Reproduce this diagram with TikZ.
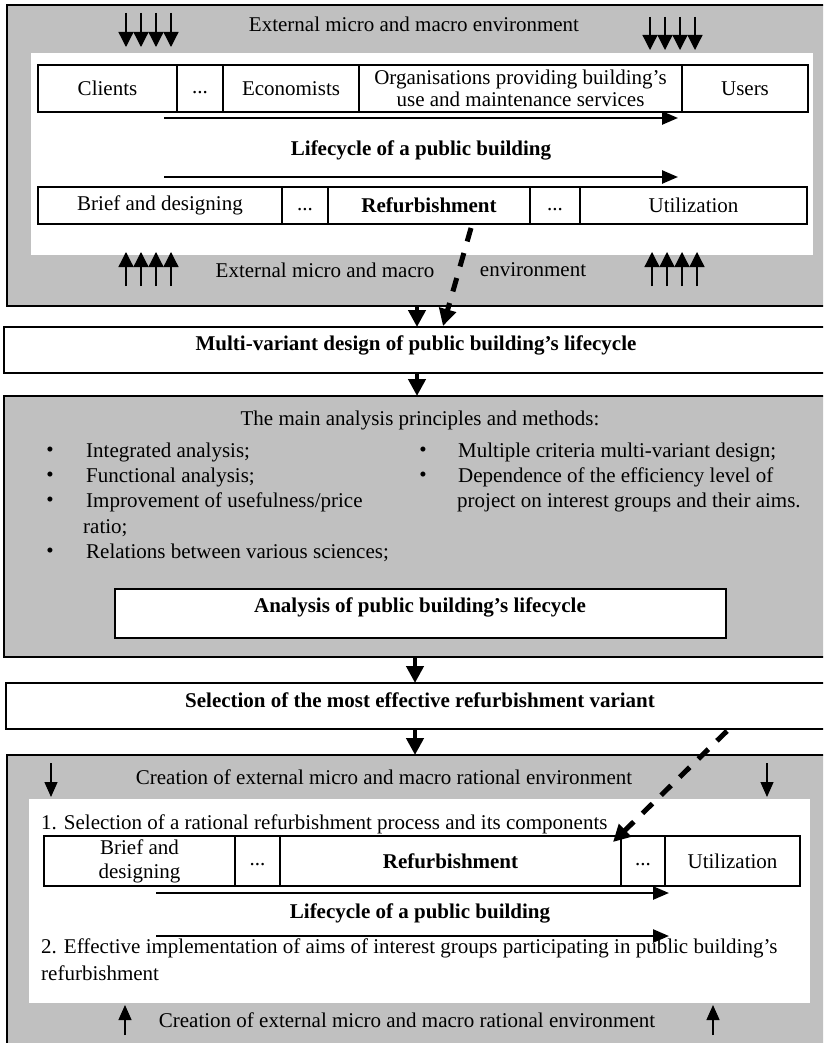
\documentclass[tikz,border=0pt]{standalone}
\usepackage{fontspec}
\setmainfont{Liberation Serif}
\usetikzlibrary{arrows.meta}
\definecolor{gbg}{RGB}{192,192,192}
\newcommand\mydots{\vphantom{Ag}...}
\begin{document}
\begin{tikzpicture}[x=1pt,y=-1pt,
  font=\fontsize{21}{25}\selectfont,
  gbox/.style={draw, line width=2pt, fill=gbg, anchor=north west, inner sep=0, outer sep=0},
  wbox/.style={draw, line width=2pt, fill=white, anchor=north west, inner sep=0, outer sep=0},
  warea/.style={fill=white, anchor=north west, inner sep=0, outer sep=0},
  cell/.style={draw, line width=2pt, anchor=north west, inner sep=0, outer sep=0, align=center},
  txt/.style={inner sep=0},
  ltxt/.style={inner sep=0, anchor=west},
  btxt/.style={inner sep=0, font=\fontsize{21}{25}\selectfont\bfseries},
  thickarr/.style={line width=4.5pt, -{Triangle[length=17pt,width=17pt]}},
  rowarr/.style={line width=2.5pt, -{Triangle[length=16pt,width=13pt]}},
  envarr/.style={line width=1.3pt, -{Triangle[length=15pt,width=15pt]}},
  smallarr/.style={line width=1.3pt, -{Triangle[length=15pt,width=13pt]}},
  dasharr/.style={line width=5pt, dash pattern=on 14pt off 12pt, -{Triangle[length=17pt,width=17pt]}}
]
\useasboundingbox (0,0) rectangle (823,1043);
\clip (0,0) rectangle (823,1043);
\fill[white] (0,0) rectangle (823,1043);

% ---------- Section 1 ----------
\node[gbox, minimum width=823pt, minimum height=301pt] (g1) at (7,5) {};
\node[warea, minimum width=782pt, minimum height=202pt] (w1) at (31,53) {};
\node[txt] (env1t) at (414,24) {External micro and macro environment};
\foreach \x [count=\i] in {126,141,156,171}{
  \coordinate (tl\i s) at (\x,13); \coordinate (tl\i e) at (\x,47);
  \draw[envarr] (tl\i s) -- (tl\i e);}
\foreach \x [count=\i] in {650,665,680,695}{
  \coordinate (tr\i s) at (\x,17); \coordinate (tr\i e) at (\x,50);
  \draw[envarr] (tr\i s) -- (tr\i e);}

\node[cell, minimum width=139pt, minimum height=47pt] (c11) at (38,65) {Clients};
\node[cell, minimum width=46pt, minimum height=47pt] (c12) at (177,65) {\mydots};
\node[cell, minimum width=136pt, minimum height=47pt] (c13) at (223,65) {Economists};
\node[cell, minimum width=323pt, minimum height=47pt, font=\fontsize{21}{22}\selectfont] (c14) at (359,65) {Organisations providing building’s\\use and maintenance services};
\node[cell, minimum width=126pt, minimum height=47pt] (c15) at (682,65) {Users};

\coordinate (a1s) at (164,118); \coordinate (a1e) at (678,118);
\draw[rowarr] (a1s) -- (a1e);
\node[btxt] (life1) at (421,150) {Lifecycle of a public building};
\coordinate (a2s) at (164,177); \coordinate (a2e) at (678,177);
\draw[rowarr] (a2s) -- (a2e);

\node[cell, minimum width=244pt, minimum height=37pt] (c21) at (38,187) {Brief and designing};
\node[cell, minimum width=46pt, minimum height=37pt] (c22) at (282,187) {\mydots};
\node[cell, minimum width=202pt, minimum height=37pt, font=\fontsize{21}{25}\selectfont\bfseries] (c23) at (328,187) {Refurbishment};
\node[cell, minimum width=50pt, minimum height=37pt] (c24) at (530,187) {\mydots};
\node[cell, minimum width=227pt, minimum height=37pt] (c25) at (580,187) {Utilization};

\node[txt] (env1b) at (325,270) {External micro and macro};
\node[txt] (env1c) at (533,270) {environment};
\foreach \x [count=\i] in {126,141,156,171}{
  \coordinate (bl\i s) at (\x,286); \coordinate (bl\i e) at (\x,252);
  \draw[envarr] (bl\i s) -- (bl\i e);}
\foreach \x [count=\i] in {652,667,682,697}{
  \coordinate (br\i s) at (\x,286); \coordinate (br\i e) at (\x,252);
  \draw[envarr] (br\i s) -- (br\i e);}

% ---------- Multi-variant ----------
\node[wbox, minimum width=826pt, minimum height=46pt] (mv) at (4,327) {};
\node[btxt] (mvt) at (416,345) {Multi-variant design of public building’s lifecycle};
\coordinate (s1) at (417,0);
\draw[thickarr] (g1.south -| s1) -- (mv.north -| s1);
\coordinate (d1s) at (471,228); \coordinate (d1e) at (443,326);
\draw[dasharr] (d1s) -- (d1e);

% ---------- Section 2 ----------
\node[gbox, minimum width=826pt, minimum height=261pt] (g2) at (4,396) {};
\draw[thickarr] (mv.south -| s1) -- (g2.north -| s1);
\node[txt] (prin) at (420,420) {The main analysis principles and methods:};
\foreach \y [count=\i] in {452,477,502,553}{
  \node[txt] (lb\i) at (50,\y) {\textbullet};}
\node[ltxt] (l1) at (86,452) {Integrated analysis;};
\node[ltxt] (l2) at (86,477) {Functional analysis;};
\node[ltxt] (l3) at (86,502) {Improvement of usefulness/price};
\node[ltxt] (l3b) at (83,528) {ratio;};
\node[ltxt] (l4) at (86,553) {Relations between various sciences;};
\node[txt] (rb1) at (423,452) {\textbullet};
\node[txt] (rb2) at (423,477) {\textbullet};
\node[ltxt] (r1) at (458,452) {Multiple criteria multi-variant design;};
\node[ltxt] (r2) at (458,477) {Dependence of the efficiency level of};
\node[ltxt] (r2b) at (457,502) {project on interest groups and their aims.};
\node[wbox, minimum width=611pt, minimum height=49pt] (an) at (115,589) {};
\node[btxt] (ant) at (420,607) {Analysis of public building’s lifecycle};

% ---------- Selection ----------
\node[wbox, minimum width=824pt, minimum height=46pt] (sel) at (6,683) {};
\node[btxt] (selt) at (420,700) {Selection of the most effective refurbishment variant};
\coordinate (s3) at (415,0);
\draw[thickarr] (g2.south -| s3) -- (sel.north -| s3);

% ---------- Section 3 ----------
\node[gbox, minimum width=823pt, minimum height=300pt] (g3) at (7,755) {};
\draw[thickarr] (sel.south -| s3) -- (g3.north -| s3);
\node[txt] (env3t) at (384,777) {Creation of external micro and macro rational environment};
\coordinate (sa1s) at (51,763); \coordinate (sa1e) at (51,797);
\coordinate (sa2s) at (767,763); \coordinate (sa2e) at (767,797);
\draw[smallarr] (sa1s) -- (sa1e);
\draw[smallarr] (sa2s) -- (sa2e);
\node[warea, minimum width=781pt, minimum height=204pt] (w3) at (29,799) {};
\node[ltxt] (p1) at (41,824) {1. Selection of a rational refurbishment process and its components};

\node[cell, minimum width=191pt, minimum height=50pt, font=\fontsize{21}{24}\selectfont] (c31) at (44,836) {Brief and\\designing};
\node[cell, minimum width=45pt, minimum height=50pt] (c32) at (235,836) {\mydots};
\node[cell, minimum width=341pt, minimum height=50pt, font=\fontsize{21}{25}\selectfont\bfseries] (c33) at (280,836) {Refurbishment};
\node[cell, minimum width=44pt, minimum height=50pt] (c34) at (621,836) {\mydots};
\node[cell, minimum width=135pt, minimum height=50pt] (c35) at (665,836) {Utilization};

\coordinate (a3s) at (156,893); \coordinate (a3e) at (669,893);
\draw[rowarr] (a3s) -- (a3e);
\node[btxt] (life3) at (420,913) {Lifecycle of a public building};
\coordinate (a4s) at (156,936); \coordinate (a4e) at (669,936);
\draw[rowarr] (a4s) -- (a4e);
\node[ltxt] (p2) at (41,948) {2. Effective implementation of aims of interest groups participating in public building’s};
\node[ltxt] (p2b) at (41,973) {refurbishment};

\coordinate (ua1s) at (125,1035); \coordinate (ua1e) at (125,1005);
\coordinate (ua2s) at (713,1035); \coordinate (ua2e) at (713,1005);
\draw[smallarr] (ua1s) -- (ua1e);
\draw[smallarr] (ua2s) -- (ua2e);
\node[txt] (env3b) at (407,1020) {Creation of external micro and macro rational environment};

\coordinate (d2s) at (727,731); \coordinate (d2e) at (613,842);
\draw[dasharr] (d2s) -- (d2e);
\end{tikzpicture}
\end{document}
